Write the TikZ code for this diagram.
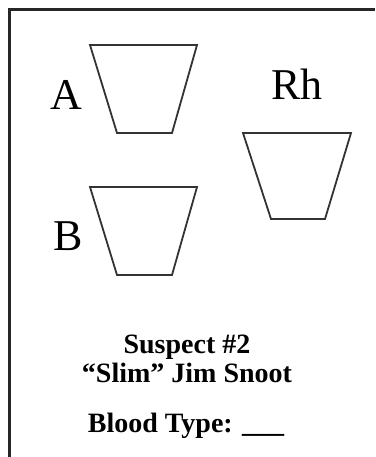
\documentclass[tikz,border=0pt]{standalone}
\usepackage{fontspec}
\setmainfont{Liberation Serif}
\begin{document}
\begin{tikzpicture}[x=1pt,y=-1pt,
  frame/.style={line width=3pt,black!85},
  cup/.style={line width=1.8pt,black!80,line join=miter},
  biglabel/.style={inner sep=0pt,anchor=base,font=\fontsize{44}{44}\selectfont},
  info/.style={inner sep=0pt,anchor=base,font=\fontsize{28}{28}\selectfont\bfseries}]
\useasboundingbox (0,0) rectangle (375,457);
\fill[white] (0,0) rectangle (375,457);
% frame
\draw[frame] (375,10) -- (9,10) -- (9,457);
% trapezoids
\draw[cup] (90,45) -- (197,45) -- (172,133) -- (117,133) -- cycle;
\draw[cup] (90,187) -- (197,187) -- (172,275) -- (117,275) -- cycle;
\draw[cup] (243,133) -- (351,133) -- (325,219) -- (271,219) -- cycle;
% labels
\node[biglabel] (la) at (66,110) {A};
\node[biglabel] (lb) at (68,250) {B};
\node[biglabel] (lrh) at (297,100) {Rh};
\node[info] (s1) at (187,353) {Suspect \#2};
\node[info] (s2) at (187,382) {“Slim” Jim Snoot};
\node[info] (s3) at (186,432) {Blood Type: \_\_\_};
\end{tikzpicture}
\end{document}
